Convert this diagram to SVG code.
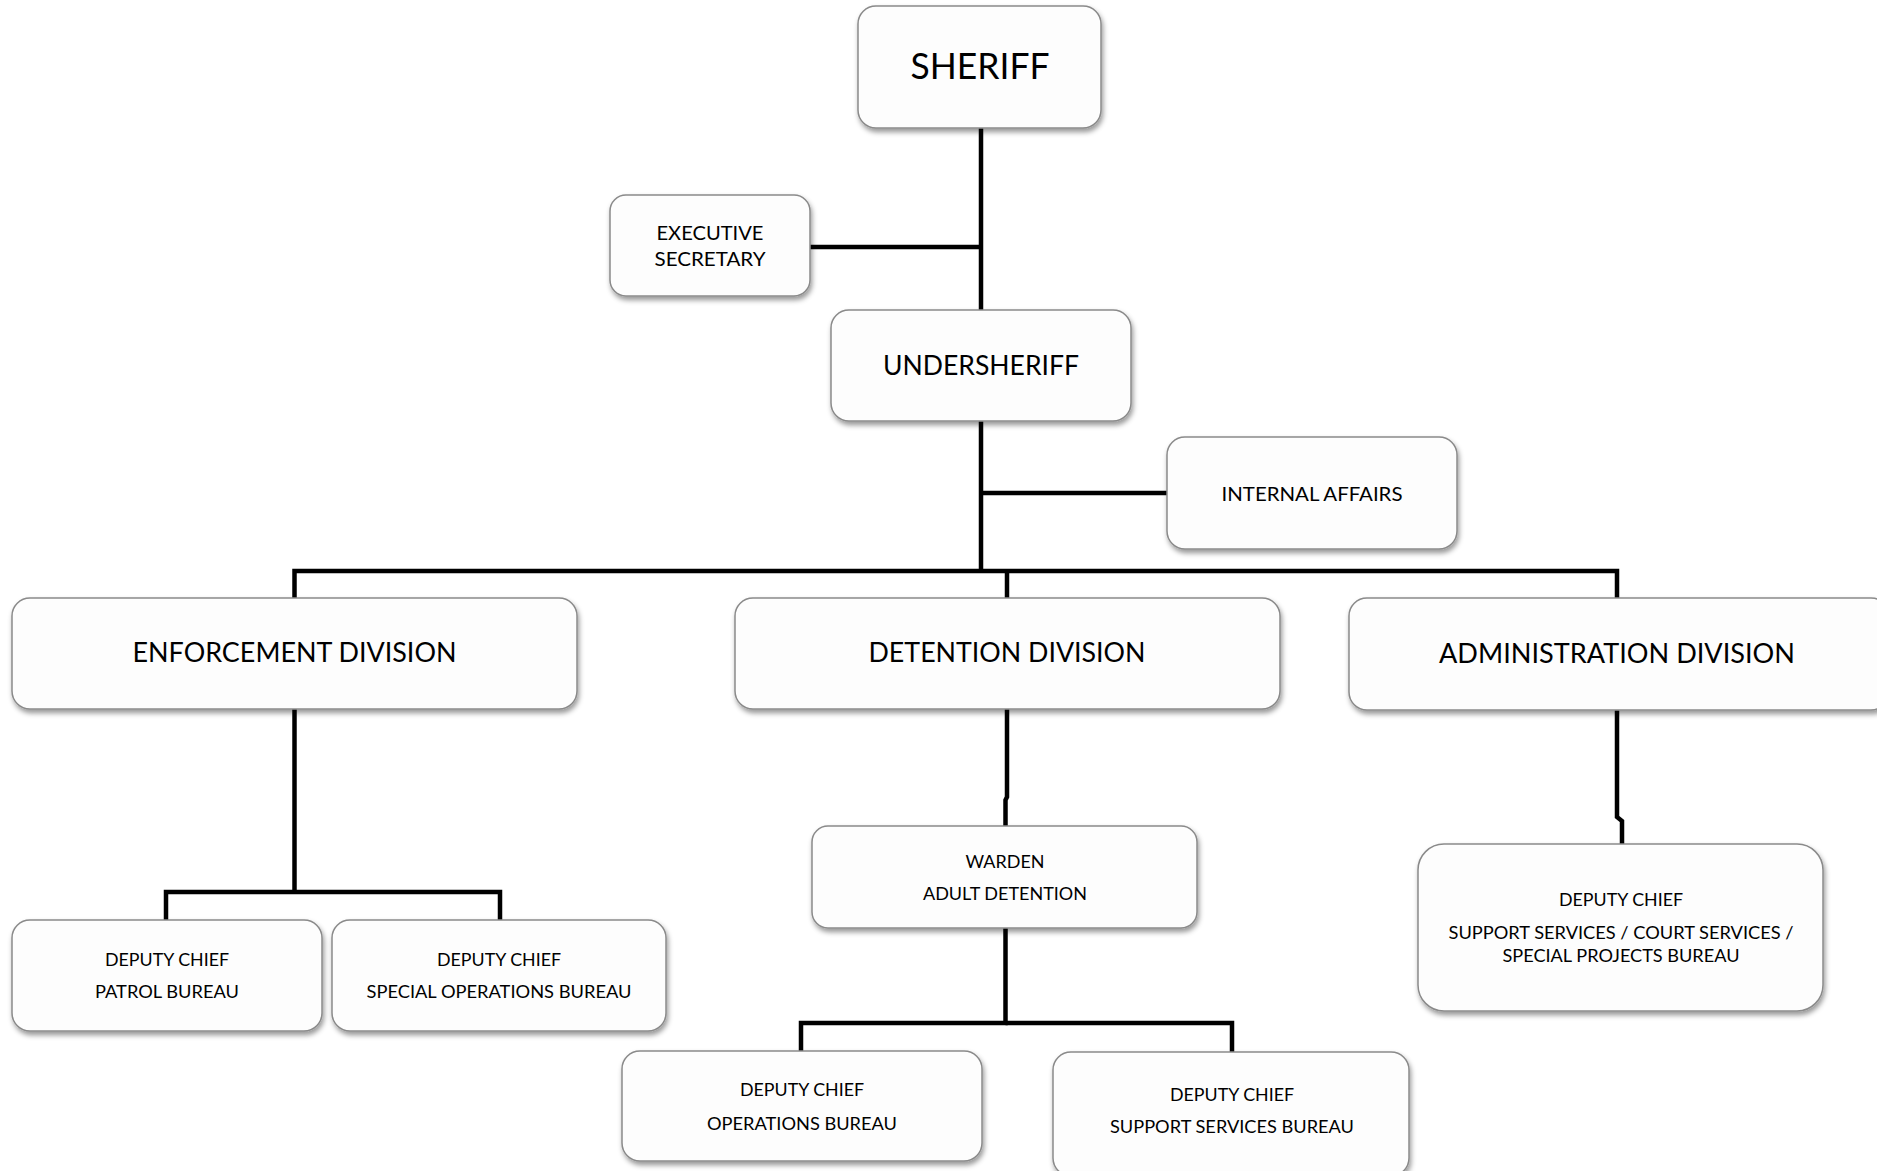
<svg xmlns="http://www.w3.org/2000/svg" width="1877" height="1171" viewBox="0 0 1877 1171">
<style>
.box{fill:#fdfdfd;stroke:#8a8a8a;stroke-width:1.5;filter:url(#sh)}
.ln{fill:none;stroke:#000;stroke-width:4.5;stroke-linejoin:miter}
text{font-family:Lato,"Open Sans","Liberation Sans",sans-serif;fill:#000;text-anchor:middle}
.s{font-size:18px}.m{font-size:20px}.l{font-size:27px}.xl{font-size:36px}
</style>
<defs>
<filter id="sh" x="-10%" y="-10%" width="130%" height="140%">
<feDropShadow dx="1.5" dy="3.5" stdDeviation="2.5" flood-color="#000" flood-opacity="0.4"/>
</filter>
</defs>
<rect width="1877" height="1171" fill="#fff"/>
<g id="connectors">
<path class="ln" d="M981 128V310"/>
<path class="ln" d="M810 247H981"/>
<path class="ln" d="M981 421V571"/>
<path class="ln" d="M981 493H1167"/>
<path class="ln" d="M294.5 598V571H1617V598"/>
<path class="ln" d="M1007 571V598"/>
<path class="ln" d="M294.5 709V892"/>
<path class="ln" d="M166 920V892H500V920"/>
<path class="ln" d="M1007 709V797L1005.5 800V826"/>
<path class="ln" d="M1005.5 928V1023H801V1051"/>
<path class="ln" d="M1005.5 1023H1232V1052"/>
<path class="ln" d="M1617 710V817L1622 821V844"/>
</g>
<g id="sheriff"><rect class="box" x="858" y="6" width="243" height="122" rx="18"/><text class="xl" x="980" y="79" textLength="139" lengthAdjust="spacingAndGlyphs">SHERIFF</text></g>
<g id="exec-secretary"><rect class="box" x="610" y="195" width="200" height="101" rx="16"/><text class="m" x="710" y="239.5" textLength="107" lengthAdjust="spacingAndGlyphs">EXECUTIVE</text><text class="m" x="710" y="266" textLength="111" lengthAdjust="spacingAndGlyphs">SECRETARY</text></g>
<g id="undersheriff"><rect class="box" x="831" y="310" width="300" height="111" rx="18"/><text class="l" x="981" y="375" textLength="196" lengthAdjust="spacingAndGlyphs">UNDERSHERIFF</text></g>
<g id="internal-affairs"><rect class="box" x="1167" y="437" width="290" height="112" rx="18"/><text class="m" x="1312" y="500.5" textLength="181" lengthAdjust="spacingAndGlyphs">INTERNAL AFFAIRS</text></g>
<g id="enforcement"><rect class="box" x="12" y="598" width="565" height="111" rx="18"/><text class="l" x="294.5" y="662" textLength="324" lengthAdjust="spacingAndGlyphs">ENFORCEMENT DIVISION</text></g>
<g id="detention"><rect class="box" x="735" y="598" width="545" height="111" rx="18"/><text class="l" x="1007" y="662" textLength="277" lengthAdjust="spacingAndGlyphs">DETENTION DIVISION</text></g>
<g id="administration"><rect class="box" x="1349" y="598" width="540" height="112" rx="18"/><text class="l" x="1617" y="663" textLength="356" lengthAdjust="spacingAndGlyphs">ADMINISTRATION DIVISION</text></g>
<g id="patrol"><rect class="box" x="12" y="920" width="310" height="111" rx="18"/><text class="s" x="167" y="965.5" textLength="124" lengthAdjust="spacingAndGlyphs">DEPUTY CHIEF</text><text class="s" x="167" y="997.5" textLength="144" lengthAdjust="spacingAndGlyphs">PATROL BUREAU</text></g>
<g id="special-ops"><rect class="box" x="332" y="920" width="334" height="111" rx="18"/><text class="s" x="499" y="965.5" textLength="124" lengthAdjust="spacingAndGlyphs">DEPUTY CHIEF</text><text class="s" x="499" y="997.5" textLength="265" lengthAdjust="spacingAndGlyphs">SPECIAL OPERATIONS BUREAU</text></g>
<g id="warden"><rect class="box" x="812" y="826" width="385" height="102" rx="16"/><text class="s" x="1005" y="867.5" textLength="79" lengthAdjust="spacingAndGlyphs">WARDEN</text><text class="s" x="1005" y="899.5" textLength="164" lengthAdjust="spacingAndGlyphs">ADULT DETENTION</text></g>
<g id="operations"><rect class="box" x="622" y="1051" width="360" height="110" rx="18"/><text class="s" x="802" y="1095.5" textLength="124" lengthAdjust="spacingAndGlyphs">DEPUTY CHIEF</text><text class="s" x="802" y="1129.5" textLength="190" lengthAdjust="spacingAndGlyphs">OPERATIONS BUREAU</text></g>
<g id="support-services"><rect class="box" x="1053" y="1052" width="356" height="124" rx="18"/><text class="s" x="1232" y="1100.5" textLength="124" lengthAdjust="spacingAndGlyphs">DEPUTY CHIEF</text><text class="s" x="1232" y="1132.5" textLength="244" lengthAdjust="spacingAndGlyphs">SUPPORT SERVICES BUREAU</text></g>
<g id="admin-deputy"><rect class="box" x="1418" y="844" width="405" height="167" rx="26"/><text class="s" x="1621" y="905.5" textLength="124" lengthAdjust="spacingAndGlyphs">DEPUTY CHIEF</text><text class="s" x="1621" y="939" textLength="345" lengthAdjust="spacingAndGlyphs">SUPPORT SERVICES / COURT SERVICES /</text><text class="s" x="1621" y="962" textLength="237" lengthAdjust="spacingAndGlyphs">SPECIAL PROJECTS BUREAU</text></g>
</svg>
